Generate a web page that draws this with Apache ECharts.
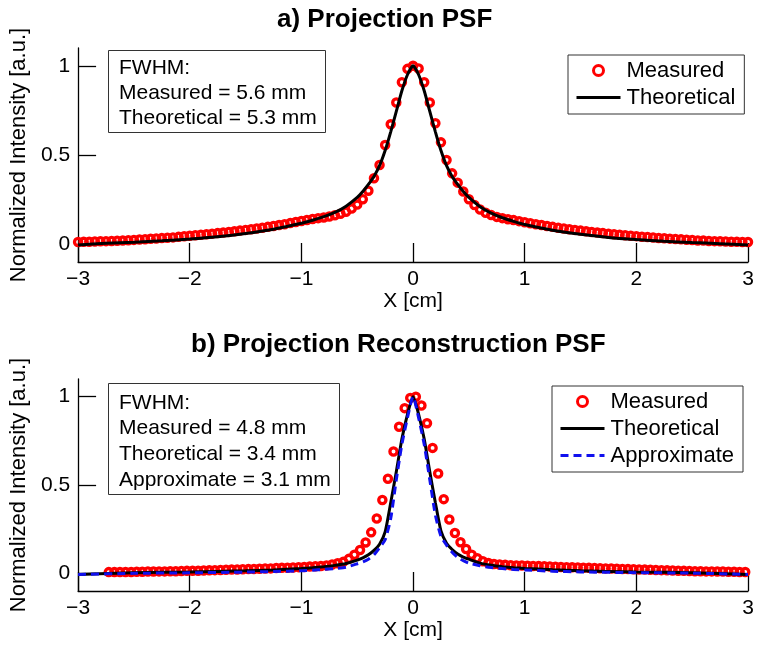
<!DOCTYPE html>
<html><head><meta charset="utf-8">
<script src="https://cdn.jsdelivr.net/npm/echarts@6/dist/echarts.min.js"></script>
<style>html,body{margin:0;padding:0;background:#fff}#c{width:764px;height:659px}</style>
</head><body><div id="c"></div>
<script>
// ---------- data ----------
const xTicks = [-3, -2, -1, 0, 1, 2, 3];
const yTicks = [0, 0.5, 1];

// Panel a: measured samples, x from -3.00 step 0.05
const measuredA_start = -3.0;
const measuredA_step = 0.05;
const measuredA = [
  0.012,0.013,0.014,0.015,0.016,0.017,0.018,0.019,0.020,0.022,
  0.024,0.026,0.028,0.030,0.032,0.034,0.036,0.038,0.041,0.044,
  0.047,0.050,0.053,0.056,0.059,0.062,0.065,0.068,0.072,0.076,
  0.080,0.084,0.088,0.092,0.097,0.102,0.107,0.112,0.118,0.124,
  0.130,0.136,0.141,0.146,0.150,0.155,0.162,0.171,0.182,0.200,
  0.222,0.252,0.300,0.370,0.444,0.556,0.672,0.794,0.908,0.983,
  1.000,
  0.985,0.908,0.794,0.678,0.571,0.472,0.397,0.345,0.295,0.252,
  0.220,0.194,0.176,0.163,0.153,0.146,0.140,0.135,0.129,0.123,
  0.117,0.112,0.107,0.102,0.097,0.092,0.088,0.084,0.080,0.076,
  0.072,0.068,0.065,0.062,0.059,0.056,0.053,0.050,0.047,0.045,
  0.042,0.040,0.037,0.035,0.033,0.031,0.029,0.027,0.025,0.023,
  0.021,0.020,0.018,0.017,0.016,0.015,0.014,0.013,0.012,0.012
];
// Panel a: theoretical curve
const theoA_x = [-3,-2.75,-2.5,-2.25,-2,-1.75,-1.5,-1.25,-1,-0.9,-0.8,-0.7,-0.6,-0.5,-0.45,-0.4,-0.35,-0.3,-0.25,-0.2,-0.15,-0.1,-0.05,0,
  0.05,0.1,0.15,0.2,0.25,0.3,0.35,0.4,0.45,0.5,0.6,0.7,0.8,0.9,1,1.25,1.5,1.75,2,2.25,2.5,2.75,3];
const theoA_y = [-0.005,0.005,0.011,0.019,0.029,0.042,0.060,0.084,0.117,0.134,0.154,0.178,0.213,0.262,0.295,0.335,0.380,0.440,0.525,0.630,0.745,0.860,0.950,1.000,
  0.950,0.860,0.745,0.630,0.525,0.440,0.380,0.335,0.295,0.262,0.210,0.174,0.148,0.128,0.110,0.078,0.055,0.038,0.026,0.016,0.009,0.003,-0.005];

// Panel b: measured samples, x from -2.725 step 0.05
const measuredB_start = -2.725;
const measuredB_step = 0.05;
const measuredB = [
  0.007,0.007,0.008,0.008,0.008,0.009,0.009,0.010,0.010,0.011,
  0.011,0.012,0.012,0.013,0.014,0.014,0.015,0.016,0.017,0.018,
  0.019,0.020,0.021,0.022,0.023,0.024,0.025,0.026,0.027,0.028,
  0.030,0.031,0.032,0.033,0.035,0.036,0.038,0.040,0.042,0.045,
  0.050,0.057,0.065,0.082,0.105,0.132,0.175,0.232,0.310,0.415,
  0.535,0.690,0.830,0.935,0.993,
  1.000,0.950,0.850,0.710,0.565,0.420,0.305,0.228,0.176,0.138,
  0.105,0.085,0.068,0.058,0.053,0.050,0.048,0.046,0.045,0.044,
  0.043,0.042,0.041,0.040,0.039,0.037,0.036,0.035,0.034,0.033,
  0.032,0.031,0.030,0.029,0.028,0.027,0.026,0.025,0.024,0.023,
  0.022,0.021,0.020,0.019,0.018,0.017,0.016,0.015,0.014,0.013,
  0.012,0.012,0.011,0.011,0.010,0.010,0.009,0.009,0.008,0.008
];
// Panel b: theoretical + approximate curves
const curveB_x = [-3,-2.5,-2,-1.5,-1.25,-1,-0.9,-0.8,-0.7,-0.6,-0.5,-0.45,-0.4,-0.35,-0.3,-0.25,-0.2,-0.15,-0.1,-0.05,0,
  0.05,0.1,0.15,0.2,0.25,0.3,0.35,0.4,0.45,0.5,0.6,0.7,0.8,0.9,1,1.25,1.5,2,2.5,3];
const theoB_y = [-0.006,0.003,0.008,0.014,0.019,0.027,0.031,0.037,0.045,0.056,0.075,0.088,0.105,0.130,0.165,0.235,0.400,0.575,0.760,0.900,1.000,
  0.900,0.760,0.575,0.400,0.240,0.170,0.135,0.110,0.092,0.080,0.058,0.046,0.038,0.032,0.028,0.020,0.014,0.008,0.003,-0.006];
const approxB_y = [-0.006,0.000,0.003,0.007,0.010,0.015,0.018,0.022,0.027,0.035,0.054,0.065,0.080,0.105,0.145,0.190,0.310,0.530,0.730,0.880,1.000,
  0.880,0.730,0.530,0.330,0.210,0.160,0.120,0.090,0.072,0.058,0.043,0.033,0.027,0.022,0.019,0.012,0.008,0.004,0.001,-0.006];

const titleA = 'a) Projection PSF';
const titleB = 'b) Projection Reconstruction PSF';
const fwhmA = ['FWHM:', 'Measured = 5.6 mm', 'Theoretical = 5.3 mm'];
const fwhmB = ['FWHM:', 'Measured = 4.8 mm', 'Theoretical = 3.4 mm', 'Approximate = 3.1 mm'];

// ---------- build ----------
const FONT = '"Liberation Sans", Arial, Helvetica, sans-serif';
function sampled(start, step, vals) { return vals.map((v, i) => [+(start + i * step).toFixed(4), v]); }
function paired(xs, ys) { return xs.map((x, i) => [x, ys[i]]); }
const minus = v => String(v).replace('-', '\u2212');

function xAxis(gi) {
  return {
    type: 'value', gridIndex: gi, min: -3, max: 3, interval: 1,
    name: 'X [cm]', nameLocation: 'middle', nameGap: 27,
    nameTextStyle: { color: '#000', fontSize: 21, fontFamily: FONT },
    axisLine: { onZero: false, lineStyle: { color: '#000', width: 1.3 } },
    axisTick: { inside: true, length: 19, lineStyle: { color: '#000', width: 1.3 } },
    axisLabel: { color: '#000', fontSize: 21, fontFamily: FONT, margin: 7, formatter: minus },
    splitLine: { show: false }
  };
}
function yAxis(gi) {
  return {
    type: 'value', gridIndex: gi, min: -0.1, max: 1.1,
    name: 'Normalized Intensity [a.u.]', nameLocation: 'middle', nameGap: 34,
    nameTextStyle: { color: '#000', fontSize: 22, fontFamily: FONT },
    axisLine: { show: true, onZero: false, lineStyle: { color: '#000', width: 1.3 } },
    axisTick: { show: true, inside: true, length: 18, customValues: yTicks, lineStyle: { color: '#000', width: 1.3 } },
    axisLabel: { color: '#000', fontSize: 21, fontFamily: FONT, margin: 8, customValues: yTicks },
    splitLine: { show: false }
  };
}
const measuredStyle = { color: 'rgba(0,0,0,0)', borderColor: '#ff0000', borderWidth: 3.3, opacity: 1 };
function scatter(name, gi, data) {
  return { name, type: 'scatter', xAxisIndex: gi, yAxisIndex: gi, data, symbol: 'circle', symbolSize: 7.2,
    itemStyle: measuredStyle, z: 2, silent: true, animation: false };
}
function line(name, gi, data, color, dashed) {
  return { name, type: 'line', xAxisIndex: gi, yAxisIndex: gi, data, symbol: 'none', showSymbol: false, smooth: 0.2,
    lineStyle: { color, width: 3, type: dashed ? [8, 5] : 'solid' }, itemStyle: { color },
    z: dashed ? 4 : 3, silent: true, animation: false };
}
function legend(left, top, names) {
  const items = names.map(n => {
    if (n === 'Measured') return { name: n, icon: 'circle', itemStyle: { color: 'rgba(0,0,0,0)', borderColor: '#ff0000', borderWidth: 3, opacity: 1 } };
    if (n === 'Theoretical') return { name: n, itemStyle: { opacity: 0 }, lineStyle: { color: '#000', width: 3, opacity: 1 } };
    return { name: n, itemStyle: { opacity: 0 }, lineStyle: { color: '#1010ee', width: 3, type: [8, 5], opacity: 1 } };
  });
  return {
    left, top, orient: 'vertical', data: items,
    itemWidth: 44, itemHeight: 10, itemGap: 2,
    padding: [3, 9, 4, 7], borderColor: '#333', borderWidth: 1, backgroundColor: '#fff',
    textStyle: { color: '#000', fontSize: 22, fontFamily: FONT, lineHeight: 25, padding: [0, 0, 0, 1] },
    selectedMode: false
  };
}

const option = {
  animation: false,
  backgroundColor: '#fff',
  title: [
    { text: titleA, left: 277, top: 5, padding: 0, textStyle: { fontSize: 26, fontWeight: 'bold', color: '#000', fontFamily: FONT, lineHeight: 30 } },
    { text: titleB, left: 191, top: 330, padding: 0, textStyle: { fontSize: 26, fontWeight: 'bold', color: '#000', fontFamily: FONT, lineHeight: 30 } },
    { text: fwhmA.join('\n'), left: 108, top: 50, padding: [6, 9, 2, 11], borderColor: '#333', borderWidth: 1, backgroundColor: '#fff',
      textStyle: { fontSize: 21, fontWeight: 'normal', color: '#000', fontFamily: FONT, lineHeight: 25 } },
    { text: fwhmB.join('\n'), left: 108, top: 383, padding: [7, 9, 2, 11], borderColor: '#333', borderWidth: 1, backgroundColor: '#fff',
      textStyle: { fontSize: 21, fontWeight: 'normal', color: '#000', fontFamily: FONT, lineHeight: 25.7 } }
  ],
  legend: [
    legend(568, 55, ['Measured', 'Theoretical']),
    legend(552, 386, ['Measured', 'Theoretical', 'Approximate'])
  ],
  grid: [
    { left: 74, right: 16, top: 48, height: 214 },
    { left: 74, right: 16, top: 379, height: 212 }
  ],
  xAxis: [xAxis(0), xAxis(1)],
  yAxis: [yAxis(0), yAxis(1)],
  series: [
    scatter('Measured', 0, sampled(measuredA_start, measuredA_step, measuredA)),
    line('Theoretical', 0, paired(theoA_x, theoA_y), '#000', false),
    scatter('Measured', 1, sampled(measuredB_start, measuredB_step, measuredB)),
    line('Theoretical', 1, paired(curveB_x, theoB_y), '#000', false),
    line('Approximate', 1, paired(curveB_x, approxB_y), '#1010ee', true)
  ]
};
const chart = echarts.init(document.getElementById('c'), null, { renderer: 'canvas' });
chart.setOption(option);
</script>
</body></html>
